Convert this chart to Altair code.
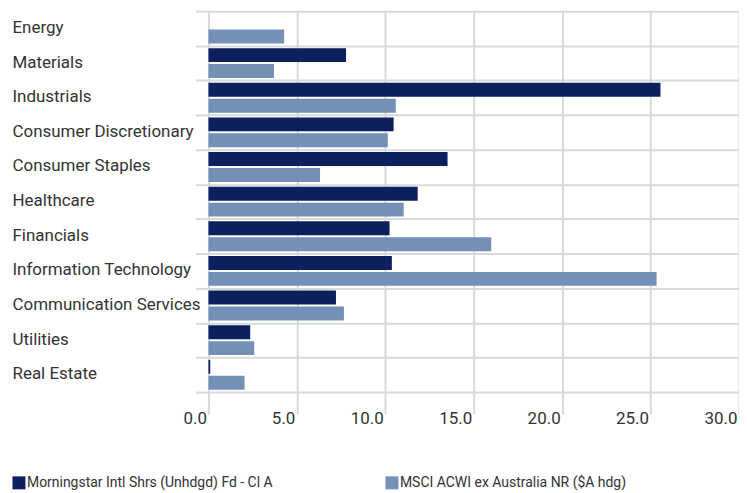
import altair as alt
import pandas as pd

sectors = [
    "Energy", "Materials", "Industrials", "Consumer Discretionary",
    "Consumer Staples", "Healthcare", "Financials", "Information Technology",
    "Communication Services", "Utilities", "Real Estate",
]
fund = [0.0, 7.78, 25.56, 10.47, 13.52, 11.83, 10.24, 10.37, 7.21, 2.36, 0.1]
bench = [4.28, 3.71, 10.59, 10.14, 6.31, 11.04, 15.99, 25.34, 7.66, 2.59, 2.04]
series = [
    "Morningstar Intl Shrs (Unhdgd) Fd - Cl A",
    "MSCI ACWI ex Australia NR ($A hdg)",
]
colors = ["#0c1f5f", "#7590b7"]
x_ticks = [0, 5, 10, 15, 20, 25, 30]

rows = []
for i, s in enumerate(sectors):
    rows.append({"sector": s, "series": series[0], "value": fund[i]})
    rows.append({"sector": s, "series": series[1], "value": bench[i]})
df = pd.DataFrame(rows)

FONT = "Roboto"
GRID = "#d9d9d9"
TXT = "#333333"

chart = alt.Chart(df).mark_bar().encode(
    y=alt.Y(
        "sector:N", sort=sectors, title=None,
        scale=alt.Scale(paddingInner=0, paddingOuter=0),
        axis=alt.Axis(
            grid=True, tickBand="extent", domain=False, ticks=True,
            tickSize=13, tickColor=GRID, tickWidth=2,
            gridColor=GRID, gridWidth=2,
            labelAlign="left", labelPadding=184, labelFontSize=17,
            labelFont=FONT, labelColor=TXT, labelOffset=-1, labelLimit=400,
        ),
    ),
    yOffset=alt.YOffset(
        "series:N", sort=series,
        scale=alt.Scale(paddingInner=0.125, paddingOuter=0.15),
    ),
    x=alt.X(
        "value:Q", title=None,
        scale=alt.Scale(domain=[0, 30], nice=False, zero=True),
        axis=alt.Axis(
            values=x_ticks, format=".1f", grid=True, domain=False,
            tickSize=22, tickColor=GRID, tickWidth=2,
            gridColor=GRID, gridWidth=2,
            labelAlign="right", labelOffset=-2, labelBaseline="top",
            labelPadding=-4, labelFontSize=17, labelFont=FONT,
            labelColor=TXT, labelFlush=False, labelOverlap=False,
        ),
    ),
    color=alt.Color(
        "series:N", sort=series,
        scale=alt.Scale(domain=series, range=colors),
        legend=alt.Legend(
            orient="none", legendX=-197, legendY=466, direction="horizontal",
            columns=2, title=None, symbolType="square", symbolSize=169,
            symbolStrokeWidth=0, labelFontSize=14, labelFont=FONT,
            labelColor=TXT, columnPadding=112, labelOffset=1, labelLimit=400,
            padding=0,
        ),
    ),
).properties(
    width=532, height=382,
    padding={"left": 201, "top": 2.5, "right": 0, "bottom": 100},
    autosize="none",
).configure_view(stroke=None)

chart.save("out.html", embed_options={"renderer": "svg", "actions": False})
